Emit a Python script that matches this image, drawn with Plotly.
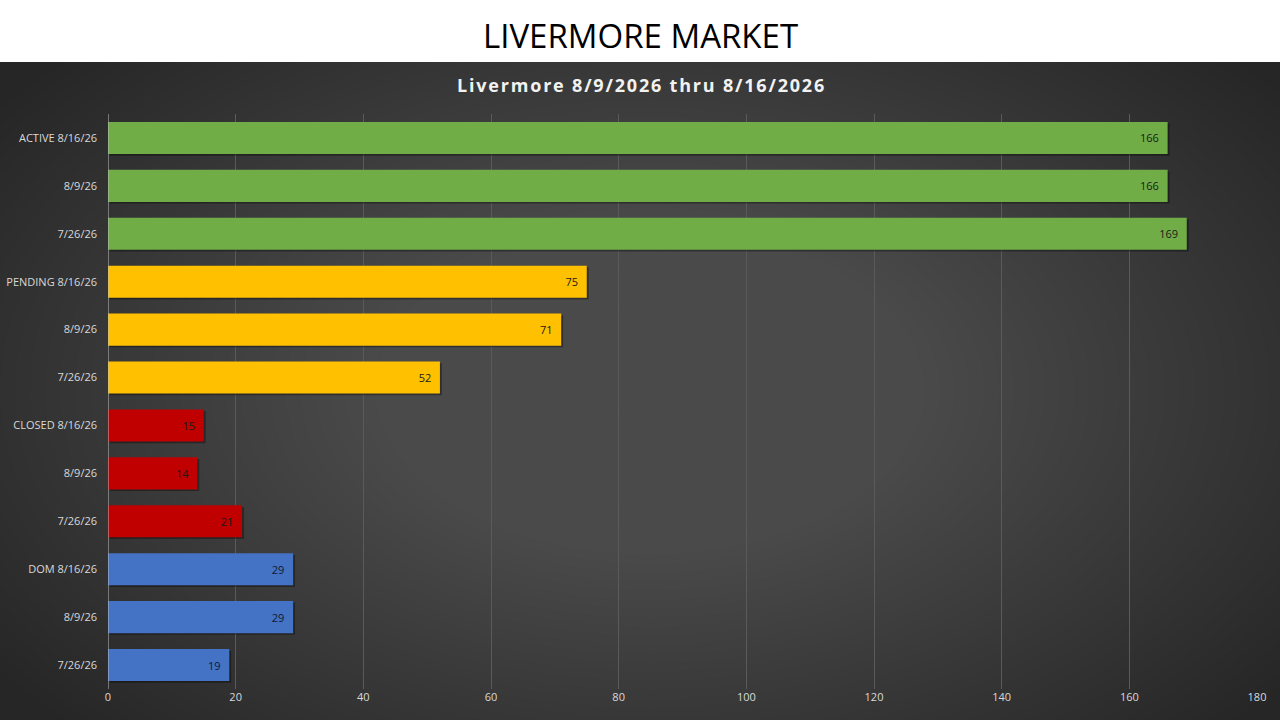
import plotly.graph_objects as go

# --- DATA ---
categories = [
    "ACTIVE 8/16/26", "8/9/26", "7/26/26",
    "PENDING 8/16/26", "8/9/26", "7/26/26",
    "CLOSED 8/16/26", "8/9/26", "7/26/26",
    "DOM 8/16/26", "8/9/26", "7/26/26",
]
values = [166, 166, 169, 75, 71, 52, 15, 14, 21, 29, 29, 19]
groups = ["active"] * 3 + ["pending"] * 3 + ["closed"] * 3 + ["dom"] * 3
x_ticks = [0, 20, 40, 60, 80, 100, 120, 140, 160, 180]

# --- STYLE ---
group_colors = {"active": "#70AD47", "pending": "#FFC000", "closed": "#C00000", "dom": "#4472C4"}
label_colors = {"active": "#1a1a1a", "pending": "#1a1a1a", "closed": "#1a1a1a", "dom": "#0d1a33"}

W, H = 1280, 720
M_L, M_R, M_T, M_B = 108, 23, 114, 31
plot_w = W - M_L - M_R
plot_h = H - M_T - M_B


def px_x(px):
    return (px - M_L) / plot_w


def px_y(py):
    return (H - M_B - py) / plot_h


idx = list(range(len(categories)))

fig = go.Figure()

# fake drop shadow under each bar
fig.add_trace(go.Bar(
    x=values, y=idx, orientation="h", width=0.67,
    base=0.3, offset=-0.3,
    marker=dict(color="rgba(0,0,0,0.35)", line=dict(width=0)),
    hoverinfo="skip", showlegend=False,
))

fig.add_trace(go.Bar(
    x=values, y=idx, orientation="h", width=0.67,
    marker=dict(color=[group_colors[g] for g in groups], line=dict(width=0)),
    texttemplate="%{x}\u00a0\u00a0",
    textposition="inside", insidetextanchor="end",
    textfont=dict(family="Open Sans, sans-serif", size=11,
                  color=[label_colors[g] for g in groups]),
    hovertemplate="%{x}<extra></extra>",
    showlegend=False,
))

# background: dark band with a radial glow built from stacked ellipses
shapes = [dict(type="rect", xref="paper", yref="paper", layer="below",
               x0=px_x(0), x1=px_x(W), y0=px_y(H), y1=px_y(62),
               fillcolor="#262626", line=dict(width=0))]
cx, cy = 650, 390
steps = 52
for i in range(steps):
    rx = 800 - i * 15
    ry = 480 - i * 9
    shapes.append(dict(type="circle", xref="paper", yref="paper", layer="below",
                       x0=px_x(cx - rx), x1=px_x(cx + rx),
                       y0=px_y(cy + ry), y1=px_y(cy - ry),
                       fillcolor="rgba(110,110,110,0.026)", line=dict(width=0)))
# white header band on top of the glow
shapes.append(dict(type="rect", xref="paper", yref="paper", layer="below",
                   x0=px_x(0), x1=px_x(W), y0=px_y(62), y1=px_y(0),
                   fillcolor="white", line=dict(width=0)))

subtitle = "Livermore 8/9/2026 thru 8/16/2026"
annotations = [
    dict(text="LIVERMORE MARKET", xref="paper", yref="paper",
         x=px_x(640), y=px_y(35), xanchor="center", yanchor="middle",
         showarrow=False,
         font=dict(family="Open Sans, sans-serif", size=33, color="black")),
    dict(text="<b>" + "\u200a".join(subtitle) + "</b>",
         xref="paper", yref="paper",
         x=px_x(640), y=px_y(85), xanchor="center", yanchor="middle",
         showarrow=False,
         font=dict(family="Open Sans, sans-serif", size=18, color="#f2f2f2")),
]

fig.update_layout(
    width=W, height=H,
    margin=dict(l=M_L, r=M_R, t=M_T, b=M_B, autoexpand=False),
    paper_bgcolor="white",
    plot_bgcolor="rgba(0,0,0,0)",
    barmode="overlay",
    shapes=shapes,
    annotations=annotations,
    font=dict(family="Open Sans, sans-serif", size=11, color="#d9d9d9"),
    xaxis=dict(range=[0, 180], tickvals=x_ticks, showgrid=True,
               gridcolor="#5a5a5a", gridwidth=1, zeroline=False,
               showline=False, tickfont=dict(size=11, color="#d9d9d9"),
               ticks="", automargin=False, fixedrange=True),
    yaxis=dict(tickvals=idx, ticktext=categories, autorange="reversed",
               showgrid=False, zeroline=False, showline=False, ticks="",
               ticklabelstandoff=10, automargin=False,
               tickfont=dict(size=11, color="#d9d9d9")),
)

# vertical axis line at x = 0
fig.add_vline(x=0, line=dict(color="#bfbfbf", width=1))

pin_js = (
    "document.documentElement.style.margin='0';"
    "document.body.style.margin='0';document.body.style.overflow='hidden';"
    "var gd=document.getElementById('{plot_id}');"
    "gd.style.position='fixed';gd.style.left='0px';gd.style.top='0px';"
)
fig.write_html("out.html", config={"displayModeBar": False}, post_script=pin_js)
